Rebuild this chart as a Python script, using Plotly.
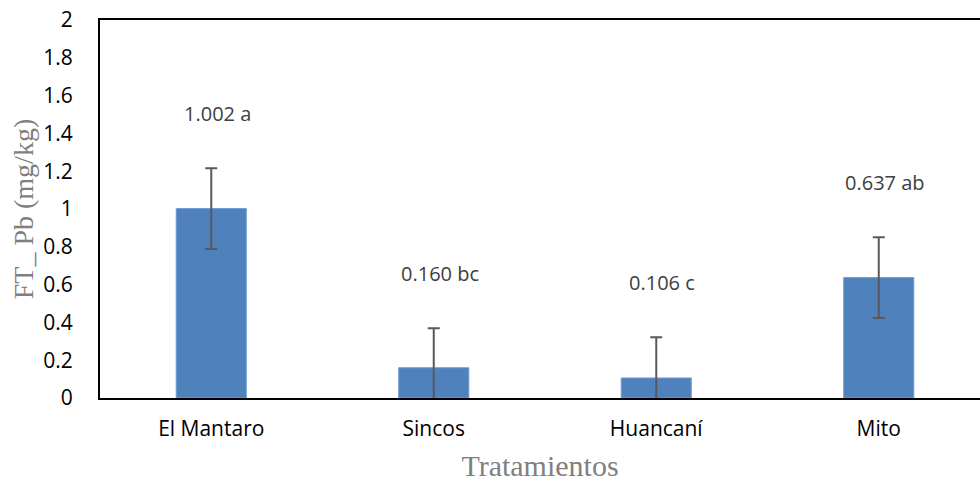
import plotly.graph_objects as go

# Mean Pb translocation factor per treatment, standard error and Tukey letters
tratamientos = ["El Mantaro", "Sincos", "Huancaní", "Mito"]
ft_pb = [1.002, 0.160, 0.106, 0.637]
error = [0.213, 0.209, 0.215, 0.214]
letras = ["a", "bc", "c", "ab"]

y_ticks = [0, 0.2, 0.4, 0.6, 0.8, 1, 1.2, 1.4, 1.6, 1.8, 2]

bar_color = "#4F81BD"
label_offset = 0.29  # gap between error-bar cap and the mean label

fig = go.Figure()
fig.add_trace(go.Bar(
    x=tratamientos,
    y=ft_pb,
    width=0.315,
    marker=dict(color=bar_color, line=dict(color="#6f9bd1", width=1)),
    error_y=dict(type="data", array=error, visible=True,
                 color="#595959", thickness=2, width=6),
    hoverinfo="x+y",
))

for cat, val, err, let in zip(tratamientos, ft_pb, error, letras):
    fig.add_annotation(
        x=cat, y=val + err + label_offset,
        text=f"{val:.3f} {let}",
        showarrow=False, xshift=6,
        font=dict(family="Open Sans", size=20, color="#404040"),
    )

fig.update_layout(
    width=980, height=482,
    margin=dict(l=100, r=0, t=20, b=84),
    paper_bgcolor="white", plot_bgcolor="white",
    showlegend=False,
    font=dict(family="Open Sans", color="#000000"),
)

fig.update_xaxes(
    range=[-0.5, 3.455],
    showline=True, linecolor="#000000", linewidth=2, mirror=True,
    showgrid=False, ticks="",
    tickfont=dict(family="Open Sans", size=21, color="#000000"),
    ticklabelstandoff=11,
    title=dict(text="Tratamientos", standoff=16,
               font=dict(family="Liberation Serif", size=30, color="#7f7f7f")),
)

fig.update_yaxes(
    range=[0, 2],
    tickvals=y_ticks,
    ticktext=[f"{v:g}" for v in y_ticks],
    showline=True, linecolor="#000000", linewidth=2, mirror=False,
    showgrid=False, zeroline=False, ticks="",
    tickfont=dict(family="Open Sans", size=21, color="#000000"),
    ticklabelstandoff=21,
    title=dict(text="FT_ Pb (mg/kg)", standoff=1,
               font=dict(family="Liberation Serif", size=28, color="#7f7f7f")),
)

fig.write_html("out.html")
